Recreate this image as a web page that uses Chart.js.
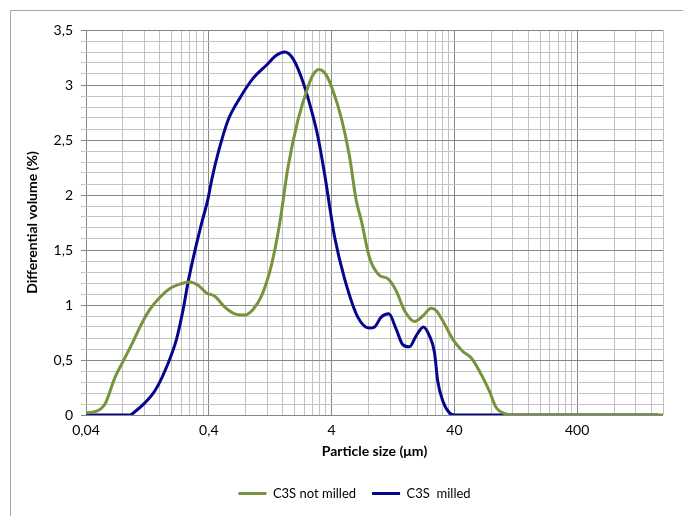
<!DOCTYPE html>
<html>
<head>
<meta charset="utf-8">
<script src="https://cdn.jsdelivr.net/npm/chart.js@4.4.1/dist/chart.umd.min.js"></script>
<style>
  html, body { margin: 0; padding: 0; background: #ffffff; }
  #wrap { width: 683px; height: 516px; position: relative; }
</style>
</head>
<body>
<div id="wrap"><canvas id="c" width="683" height="516"></canvas></div>
<script>
// ---- data ----
const seriesNames = ['C3S not milled', 'C3S  milled'];

const notMilledX = [0.04, 0.0474, 0.0571, 0.0688, 0.0804, 0.097, 0.1135, 0.1326, 0.160, 0.193, 0.232, 0.280, 0.327, 0.383, 0.448, 0.540, 0.651, 0.785, 0.917, 1.073, 1.294, 1.511, 1.765, 2.128, 2.566, 2.819, 3.153, 3.622, 4.10, 4.80, 5.60, 6.35, 6.98, 8.15, 9.82, 11.48, 13.43, 15.69, 18.92, 22.10, 25.86, 28.40, 33.17, 38.75, 46.7, 54.7, 63.9, 77.0, 87.3, 105.3, 130, 2000];
const notMilledY = [0.02, 0.03, 0.10, 0.34, 0.49, 0.67, 0.83, 0.96, 1.07, 1.15, 1.19, 1.21, 1.18, 1.11, 1.08, 0.98, 0.92, 0.91, 0.96, 1.08, 1.36, 1.74, 2.25, 2.68, 2.98, 3.09, 3.14, 3.09, 2.95, 2.70, 2.35, 1.95, 1.77, 1.43, 1.27, 1.24, 1.13, 0.95, 0.85, 0.90, 0.97, 0.95, 0.83, 0.69, 0.58, 0.52, 0.40, 0.22, 0.07, 0.01, 0, 0];

const milledX = [0.04, 0.0912, 0.100, 0.1207, 0.1456, 0.1756, 0.2185, 0.2473, 0.2715, 0.3078, 0.349, 0.395, 0.421, 0.476, 0.574, 0.715, 0.917, 1.178, 1.420, 1.659, 1.938, 2.268, 2.650, 3.095, 3.509, 3.978, 4.23, 5.10, 6.54, 8.15, 8.95, 10.14, 11.70, 13.43, 15.20, 17.22, 19.53, 22.39, 25.04, 27.52, 29.26, 32.14, 36.43, 40, 1820];
const milledY = [0, 0, 0.03, 0.11, 0.22, 0.40, 0.69, 0.96, 1.21, 1.49, 1.74, 1.97, 2.13, 2.38, 2.68, 2.88, 3.06, 3.18, 3.27, 3.30, 3.24, 3.07, 2.83, 2.53, 2.19, 1.80, 1.62, 1.24, 0.89, 0.79, 0.80, 0.89, 0.92, 0.78, 0.64, 0.62, 0.72, 0.80, 0.72, 0.57, 0.31, 0.13, 0.02, 0, 0];

const xDecades = [0.04, 0.4, 4, 40, 400];
const xDecadeLabels = ['0,04', '0,4', '4', '40', '400'];
const xMin = 0.04, xMax = 2000;
const yMin = 0, yMax = 3.5, yMinorStep = 0.1, yMajorStep = 0.5;

const xTitle = 'Particle size (\u03bcm)';
const yTitle = 'Differential volume (%)';

// ---- chart ----
const GREEN = '#77933c';
const BLUE = '#06068c';
const MAJOR = '#868686';
const MINOR = '#c3c3c3';
const FONT = 'Lato, "Open Sans", sans-serif';

const toPoints = (xs, ys) => xs.map((x, i) => ({ x: x, y: ys[i] }));
const isXMajor = v => xDecades.some(d => Math.abs(v / d - 1) < 1e-6);
const isYMajor = v => Math.abs(v / yMajorStep - Math.round(v / yMajorStep)) < 1e-6;
const comma = v => String(v).replace('.', ',');

const framePlugin = {
  id: 'frame',
  afterLayout(chart) {
    // nudge the legend to the reference position
    if (chart.legend) { chart.legend.left += 18; chart.legend.right += 18; }
  },
  beforeDraw(chart) {
    const ctx = chart.ctx;
    ctx.save();
    ctx.fillStyle = '#ffffff';
    ctx.fillRect(0, 0, chart.width, chart.height);
    ctx.strokeStyle = '#a6a6a6';
    ctx.lineWidth = 1;
    ctx.beginPath();
    ctx.moveTo(10.5, chart.height);
    ctx.lineTo(10.5, 10.5);
    ctx.lineTo(chart.width, 10.5);
    ctx.stroke();
    ctx.restore();
  }
};

new Chart(document.getElementById('c'), {
  type: 'line',
  data: {
    datasets: [
      { label: seriesNames[0], data: toPoints(notMilledX, notMilledY), borderColor: GREEN, backgroundColor: GREEN,
        borderWidth: 3, pointRadius: 0, cubicInterpolationMode: 'monotone', fill: false },
      { label: seriesNames[1], data: toPoints(milledX, milledY), borderColor: BLUE, backgroundColor: BLUE,
        borderWidth: 3, pointRadius: 0, cubicInterpolationMode: 'monotone', fill: false }
    ]
  },
  options: {
    responsive: false,
    animation: false,
    events: [],
    layout: { padding: { left: 10, top: 30, right: 20, bottom: 6 } },
    plugins: {
      tooltip: { enabled: false },
      legend: {
        position: 'bottom',
        labels: {
          boxWidth: 28, boxHeight: 3, padding: 16,
          color: '#000', font: { family: FONT, size: 13 },
          generateLabels(chart) {
            return Chart.defaults.plugins.legend.labels.generateLabels(chart).map(it => Object.assign(it, { lineWidth: 0 }));
          }
        }
      }
    },
    scales: {
      x: {
        type: 'logarithmic',
        min: xMin, max: xMax,
        afterBuildTicks(scale) {
          const t = [];
          xDecades.forEach(d => {
            for (let m = 1; m <= 9; m++) {
              const v = d * m;
              if (v <= xMax * (1 + 1e-9)) t.push({ value: v });
            }
          });
          scale.ticks = t;
        },
        afterFit(scale) { scale.height = 56; },
        ticks: {
          autoSkip: false, maxRotation: 0, minRotation: 0, padding: 7,
          color: '#000', font: { family: FONT, size: 14 },
          callback(v) {
            const i = xDecades.findIndex(d => Math.abs(v / d - 1) < 1e-6);
            return i >= 0 ? xDecadeLabels[i] : '';
          }
        },
        grid: {
          drawTicks: false,
          color: ctx => (ctx.tick && isXMajor(ctx.tick.value)) ? MAJOR : MINOR,
          lineWidth: 1
        },
        border: { display: false },
        title: {
          display: true, text: xTitle, color: '#000',
          font: { family: FONT, size: 14, weight: 'bold' },
          padding: { top: 4, bottom: 11 }
        }
      },
      y: {
        type: 'linear',
        min: yMin, max: yMax,
        afterBuildTicks(scale) {
          const t = [];
          const n = Math.round((yMax - yMin) / yMinorStep);
          for (let i = 0; i <= n; i++) t.push({ value: +(yMin + i * yMinorStep).toFixed(6) });
          scale.ticks = t;
        },
        afterFit(scale) { scale.width = 76; },
        ticks: {
          autoSkip: false, padding: 8,
          color: '#000', font: { family: FONT, size: 14 },
          callback(v) { return isYMajor(v) ? comma(+v.toFixed(1)) : ''; }
        },
        grid: {
          drawTicks: true, tickLength: 5,
          color: ctx => (ctx.tick && isYMajor(ctx.tick.value)) ? MAJOR : MINOR,
          lineWidth: 1
        },
        border: { display: false },
        title: {
          display: true, text: yTitle, color: '#000',
          font: { family: FONT, size: 14, weight: 'bold' },
          padding: { top: 14, bottom: 4 }
        }
      }
    }
  },
  plugins: [framePlugin]
});
</script>
</body>
</html>
